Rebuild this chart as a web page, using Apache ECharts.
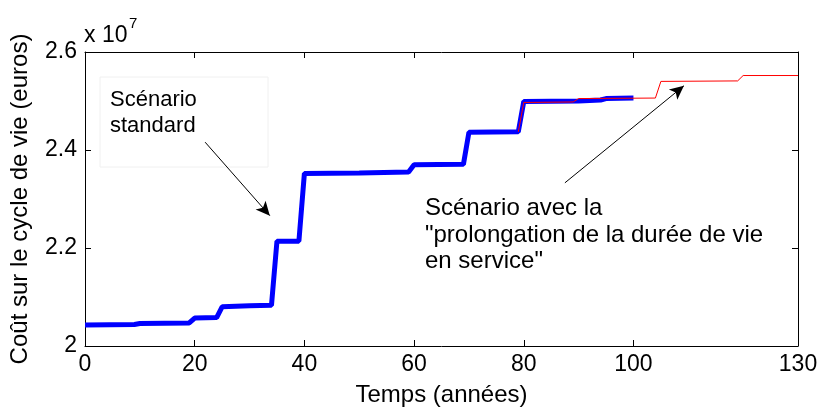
<!DOCTYPE html>
<html>
<head>
<meta charset="utf-8">
<script src="https://cdn.jsdelivr.net/npm/echarts@6/dist/echarts.min.js"></script>
<style>
  html, body { margin: 0; padding: 0; background: #fff; }
  #chart { width: 822px; height: 412px; }
</style>
</head>
<body>
<div id="chart"></div>
<script>
// Life-cycle cost (euros) over time (years), two scenarios.
const years = [0, 9, 10, 19, 20, 24, 25, 30, 34, 35, 39, 40, 50, 59, 60, 69, 70, 79, 80, 90, 94, 95, 100];
const standardCost = [20430000, 20440000, 20460000, 20470000, 20570000, 20580000, 20800000, 20820000, 20830000,
  22140000, 22140000, 23520000, 23530000, 23550000, 23700000, 23710000, 24360000, 24370000, 24990000, 25000000,
  25020000, 25050000, 25060000];

const extYears = [79, 80, 89, 90, 104, 105, 119, 120, 130];
const extendedCost = [24370000, 24970000, 24980000, 25050000, 25060000, 25400000, 25410000, 25520000, 25520000];

const xTicks = [0, 20, 40, 60, 80, 100, 130];

// Annotation arrows in data space: [startYear, startCost, endYear, endCost]
const arrowStandard = [21.9, 24160000, 33.7, 22660000];
const arrowExtended = [87.5, 23330000, 109.2, 25310000];

const FONT = '"Liberation Sans", Arial, sans-serif';

const zip = (xs, ys) => xs.map((x, i) => [x, ys[i]]);

const chart = echarts.init(document.getElementById('chart'), null, { renderer: 'canvas' });

const axisBase = {
  axisLine: { show: true, onZero: false, lineStyle: { color: '#000', width: 1 } },
  splitLine: { show: false }
};

function arrowLine(a) {
  return {
    silent: true,
    symbol: ['none', 'arrow'],
    symbolSize: [10, 14],
    label: { show: false },
    lineStyle: { color: '#000', width: 1, type: 'solid' },
    data: [[{ coord: [a[0], a[1]] }, { coord: [a[2], a[3]] }]]
  };
}

chart.setOption({
  animation: false,
  backgroundColor: '#fff',
  grid: { left: 85, right: 24, top: 52, bottom: 64 },
  xAxis: [
    Object.assign({}, axisBase, {
      type: 'value', min: 0, max: 130, position: 'bottom',
      name: 'Temps (années)', nameLocation: 'middle', nameGap: 37,
      nameTextStyle: { fontFamily: FONT, fontSize: 24, color: '#000' },
      axisTick: { show: true, inside: true, length: 6, customValues: xTicks, lineStyle: { color: '#000' } },
      axisLabel: { customValues: xTicks, fontFamily: FONT, fontSize: 23, color: '#000', margin: 7 }
    }),
    Object.assign({}, axisBase, {
      type: 'value', min: 0, max: 130, position: 'top',
      axisTick: { show: true, inside: true, length: 6, customValues: xTicks, lineStyle: { color: '#000' } },
      axisLabel: { show: false }
    })
  ],
  yAxis: [
    Object.assign({}, axisBase, {
      type: 'value', min: 20000000, max: 26000000, interval: 2000000, position: 'left',
      name: 'Coût sur le cycle de vie (euros)', nameLocation: 'middle', nameGap: 53, nameRotate: 90,
      nameTextStyle: { fontFamily: FONT, fontSize: 24, color: '#000' },
      axisTick: { show: true, inside: true, length: 6, lineStyle: { color: '#000' } },
      axisLabel: {
        fontFamily: FONT, fontSize: 23, color: '#000', margin: 8,
        formatter: v => String(+(v / 1e7).toFixed(1))
      }
    }),
    Object.assign({}, axisBase, {
      type: 'value', min: 20000000, max: 26000000, interval: 2000000, position: 'right',
      axisTick: { show: true, inside: true, length: 6, lineStyle: { color: '#000' } },
      axisLabel: { show: false }
    })
  ],
  series: [
    {
      name: 'Scénario standard',
      type: 'line',
      data: zip(years, standardCost),
      showSymbol: false,
      lineStyle: { color: '#0000ff', width: 5 },
      z: 2,
      markLine: arrowLine(arrowStandard)
    },
    {
      name: 'Scénario avec la prolongation',
      type: 'line',
      data: zip(extYears, extendedCost),
      showSymbol: false,
      lineStyle: { color: '#ff0000', width: 1 },
      z: 3,
      markLine: arrowLine(arrowExtended)
    }
  ],
  graphic: [
    {
      type: 'rect', z: 1, silent: true,
      shape: { x: 100, y: 77, width: 168, height: 90 },
      style: { fill: 'none', stroke: '#f0f0f0', lineWidth: 1 }
    },
    {
      type: 'text', left: 110, top: 87, silent: true,
      style: { text: 'Scénario\nstandard', font: '22px ' + FONT, fill: '#000', lineHeight: 26 }
    },
    {
      type: 'text', left: 425, top: 195, silent: true,
      style: { text: 'Scénario avec la\n"prolongation de la durée de vie\nen service"', font: '24px ' + FONT, fill: '#000', lineHeight: 26.7 }
    },
    {
      type: 'text', silent: true,
      style: { x: 84, y: 47, text: 'x 10', fontSize: 23, fontFamily: FONT, fill: '#000', verticalAlign: 'bottom' }
    },
    {
      type: 'text', silent: true,
      style: { x: 129, y: 31, text: '7', fontSize: 15, fontFamily: FONT, fill: '#000', verticalAlign: 'bottom' }
    }
  ]
});
</script>
</body>
</html>
